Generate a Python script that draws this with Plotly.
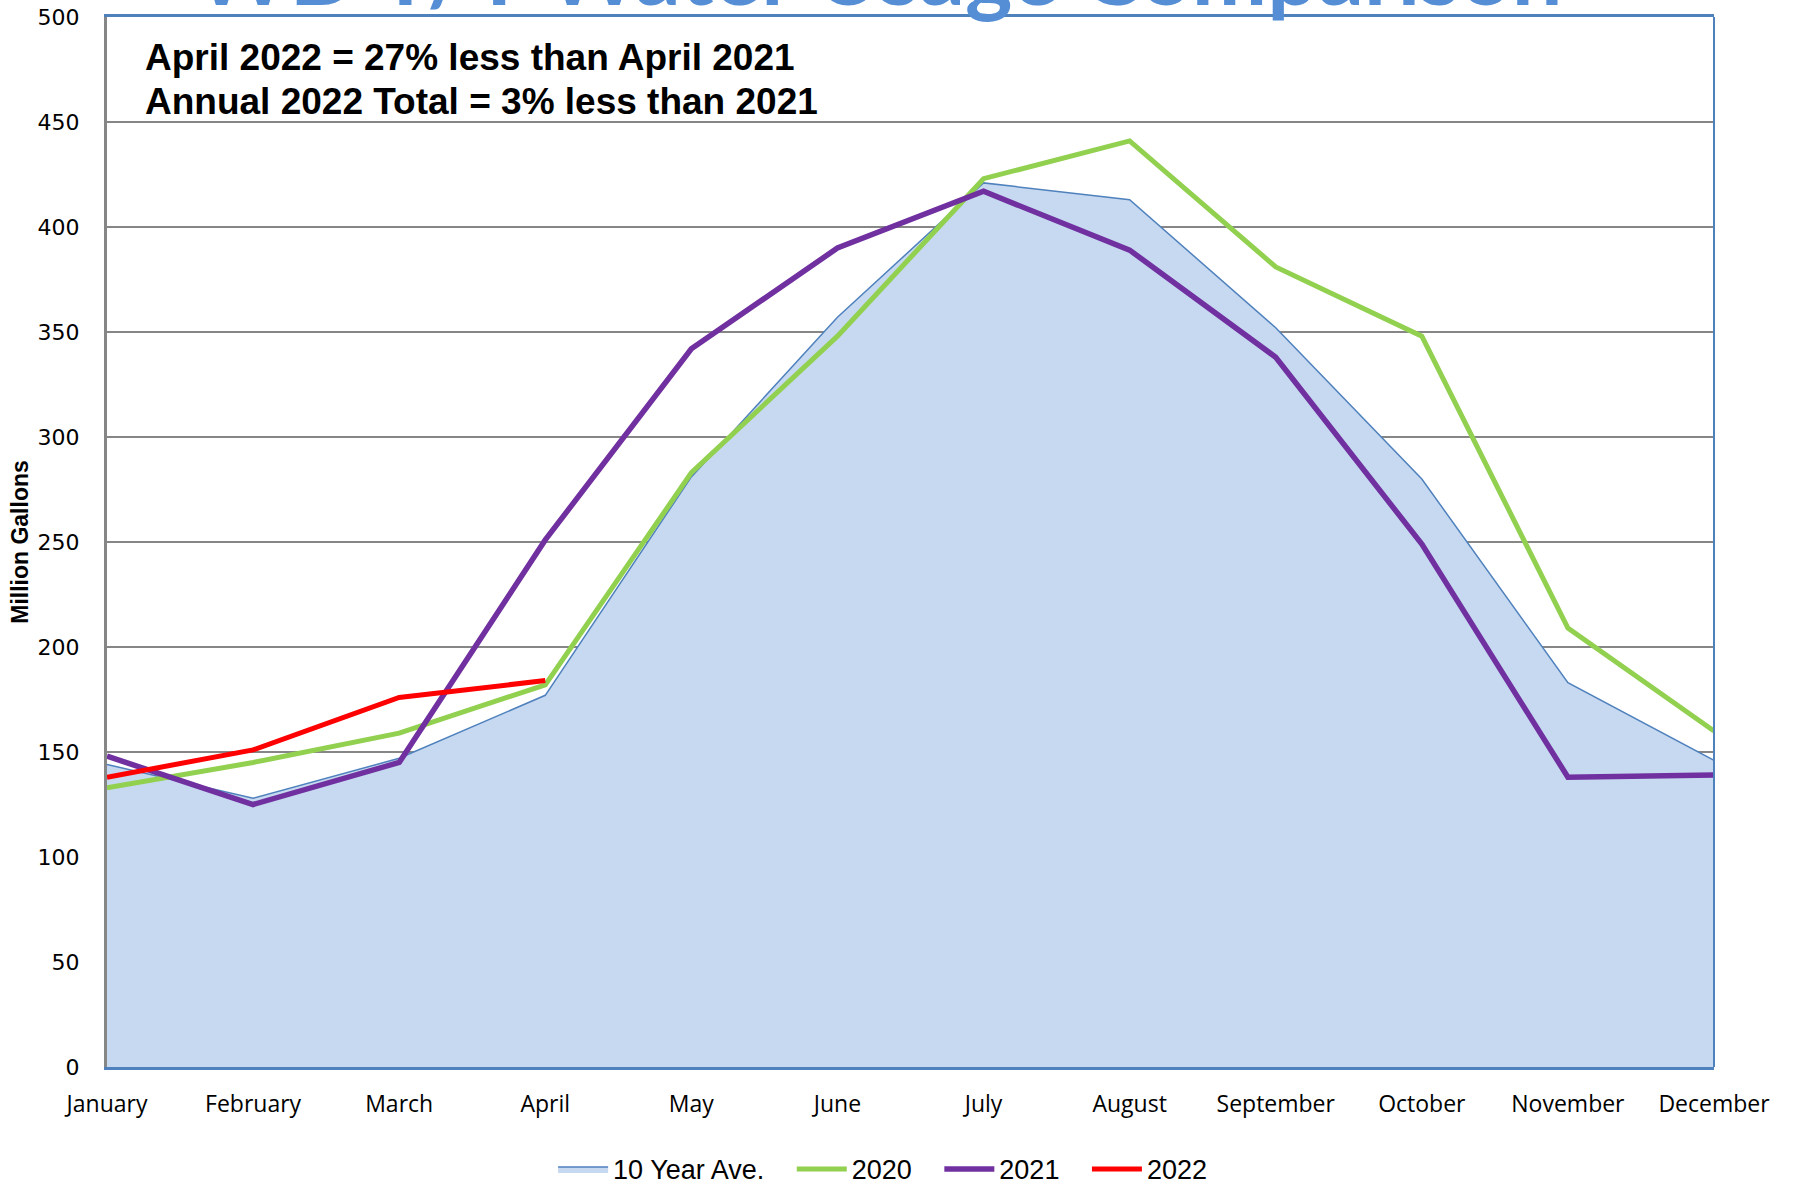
import plotly.graph_objects as go

# Monthly water usage, million gallons
months = ["January", "February", "March", "April", "May", "June",
          "July", "August", "September", "October", "November", "December"]
avg_10yr = [144, 128, 147, 177, 281, 357, 421, 413, 352, 280, 183, 146]
usage_2020 = [133, 145, 159, 182, 283, 348, 423, 441, 381, 348, 209, 160]
usage_2021 = [148, 125, 145, 251, 342, 390, 417, 389, 338, 249, 138, 139]
usage_2022 = [138, 151, 176, 184]

y_ticks = [0, 50, 100, 150, 200, 250, 300, 350, 400, 450, 500]

BLUE_EDGE = "#4F81BD"
GRID = "#868686"
PAD = "\u00a0\u00a0\u00a0"  # spacing after a legend entry

fig = go.Figure()

fig.add_trace(go.Scatter(
    x=months, y=avg_10yr, name="10 Year Ave." + PAD, mode="lines",
    fill="tozeroy", fillcolor="#C6D9F0",
    line=dict(color=BLUE_EDGE, width=1.5),
))
fig.add_trace(go.Scatter(
    x=months, y=usage_2020, name="2020" + PAD, mode="lines",
    line=dict(color="#92D050", width=5),
))
fig.add_trace(go.Scatter(
    x=months, y=usage_2021, name="2021" + PAD, mode="lines",
    line=dict(color="#7030A0", width=5.5),
))
fig.add_trace(go.Scatter(
    x=months[:len(usage_2022)], y=usage_2022, name="2022", mode="lines",
    line=dict(color="#FF0000", width=5),
))

fig.update_layout(
    width=1794, height=1184,
    margin=dict(l=107, r=80, t=17, b=117, autoexpand=False),
    paper_bgcolor="white", plot_bgcolor="white",
    showlegend=True,
    legend=dict(
        orientation="h", x=0.2776, xanchor="left", y=-0.0975, yanchor="middle",
        font=dict(family="Liberation Sans, Arial, sans-serif", size=27, color="black"),
        itemwidth=50, tracegroupgap=0,
    ),
    xaxis=dict(
        type="category", range=[0, 11],
        showgrid=False, showline=True, linecolor=BLUE_EDGE, linewidth=3,
        mirror=True, ticks="", ticklabelstandoff=14,
        tickfont=dict(family="Open Sans, sans-serif", size=23, color="black"),
    ),
    yaxis=dict(
        range=[0, 500], tickvals=y_ticks,
        showgrid=True, gridcolor=GRID, gridwidth=2,
        zeroline=False, showline=True, linecolor=GRID, linewidth=3,
        ticks="", ticklabelstandoff=20,
        tickfont=dict(family="DejaVu Sans, sans-serif", size=22, color="black"),
        title=dict(text="<b>Million Gallons</b>", standoff=3,
                   font=dict(family="Liberation Sans Narrow, Liberation Sans, Arial, sans-serif",
                             size=23, color="black")),
    ),
)

# right-hand frame edge of the plot area
fig.add_shape(type="line", xref="paper", yref="paper", x0=1, x1=1, y0=0, y1=1,
              line=dict(color=BLUE_EDGE, width=2))

# chart heading, mostly above the page edge
fig.add_annotation(
    text="<b>WD Y/Y Water Usage Comparison</b>", xref="paper", yref="paper",
    x=0.0538, y=1, xanchor="left", yanchor="bottom", yshift=-9, showarrow=False,
    font=dict(family="Lato, sans-serif", size=90, color="#558ED5"),
)

notes = ["April 2022 = 27% less than April 2021",
         "Annual 2022 Total = 3% less than 2021"]
for i, line in enumerate(notes):
    fig.add_annotation(
        text="<b>" + line + "</b>", xref="paper", yref="paper",
        x=0.0227, y=0.9617 - i * 0.0425, xanchor="left", yanchor="middle",
        showarrow=False,
        font=dict(family="Liberation Sans, Arial, sans-serif", size=37, color="black"),
    )

fig.write_html("out.html")
